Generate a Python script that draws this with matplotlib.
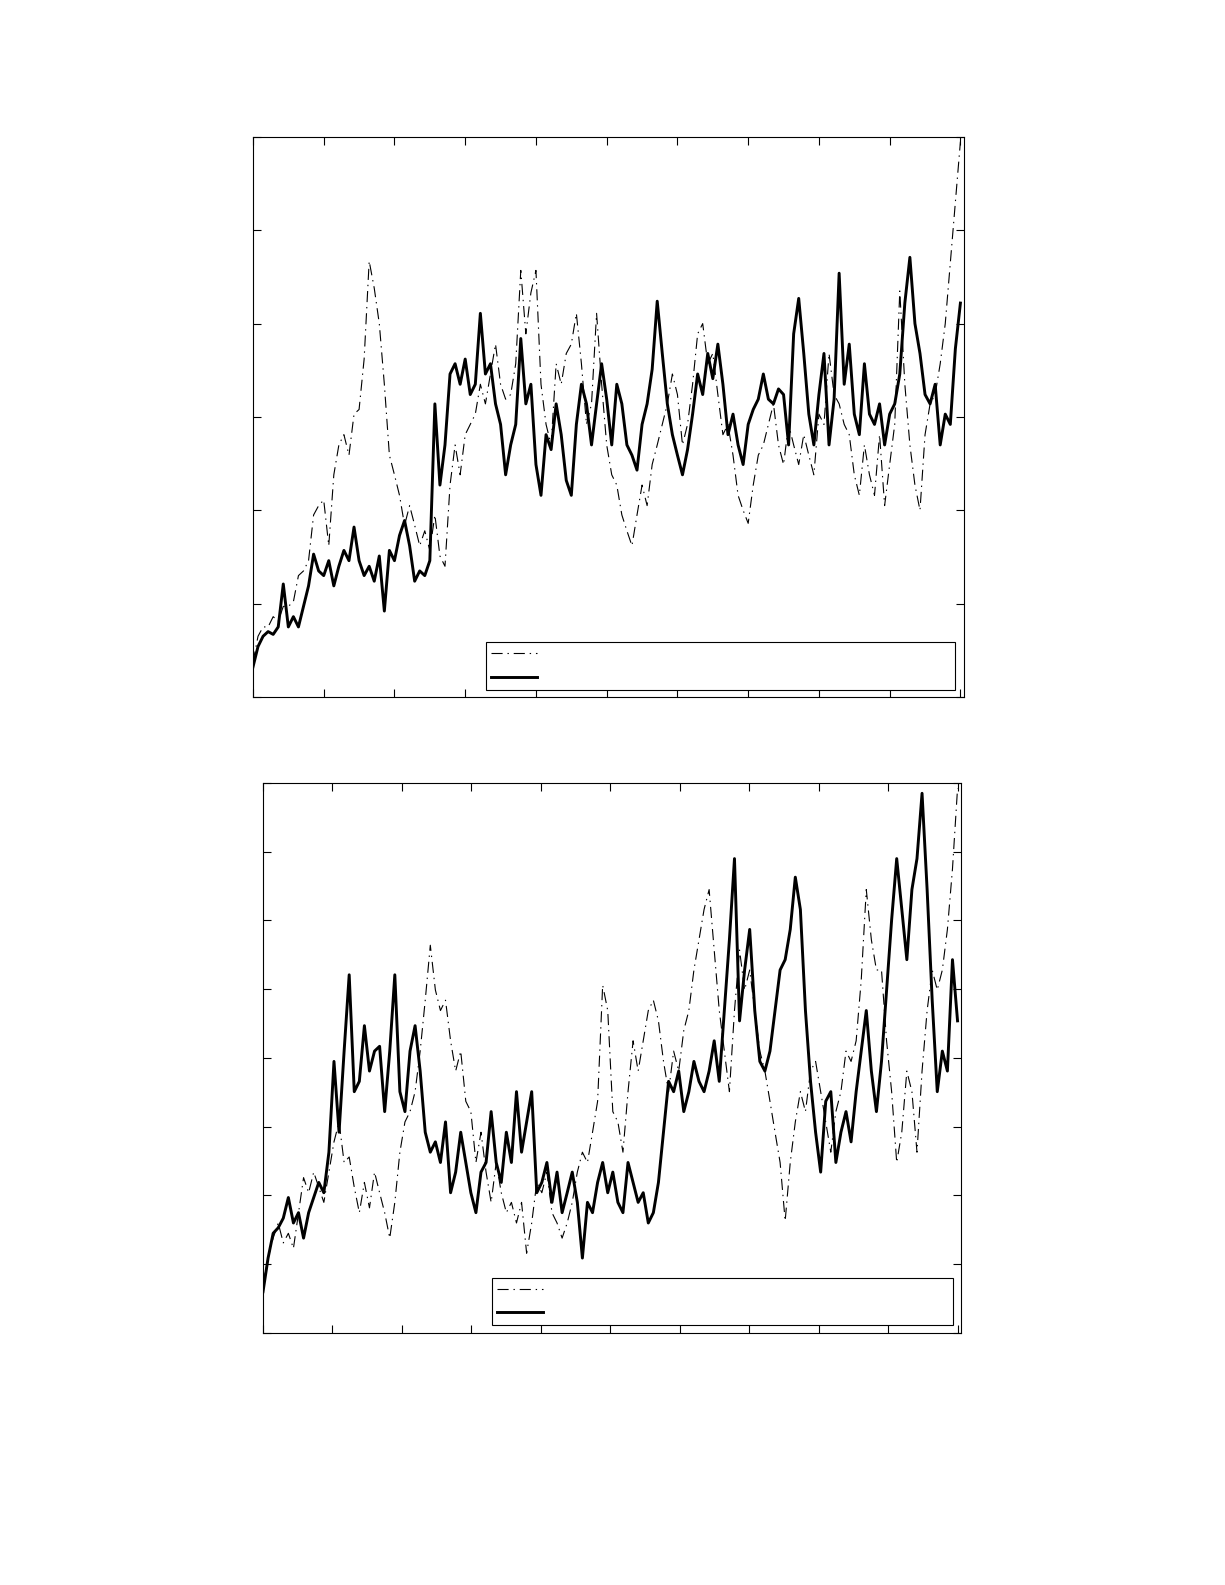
import numpy as np
import matplotlib
matplotlib.use("Agg")
import matplotlib.pyplot as plt

plt.rcParams['lines.scale_dashes'] = False

# upper panel, sampled evenly along the time axis (0..1000)
top_dashdot = [0.37, 0.65, 0.75, 0.75, 0.86, 0.81, 0.97, 0.97, 1.02, 1.30, 1.35, 1.46, 1.95, 2.05, 2.11,
               1.62, 2.38, 2.70, 2.81, 2.59, 3.03, 3.08, 3.62, 4.67, 4.38, 4.00, 3.35, 2.59, 2.38, 2.16,
               1.84, 2.05, 1.84, 1.62, 1.78, 1.57, 1.95, 1.51, 1.40, 2.27, 2.70, 2.38, 2.81, 2.92, 3.03,
               3.35, 3.14, 3.46, 3.78, 3.35, 3.19, 3.24, 3.57, 4.57, 3.89, 4.33, 4.57, 3.35, 2.92, 2.70,
               3.57, 3.35, 3.68, 3.78, 4.11, 3.57, 2.92, 3.14, 4.11, 3.35, 2.70, 2.38, 2.27, 1.95, 1.78,
               1.62, 1.95, 2.27, 2.05, 2.49, 2.70, 2.92, 3.14, 3.46, 3.24, 2.70, 2.92, 3.35, 3.89, 4.00,
               3.57, 3.68, 3.24, 2.81, 2.92, 2.59, 2.16, 2.00, 1.86, 2.27, 2.59, 2.70, 2.92, 3.14, 2.70,
               2.49, 2.92, 2.70, 2.49, 2.81, 2.59, 2.38, 3.03, 2.92, 3.68, 3.24, 3.14, 2.92, 2.81, 2.38,
               2.16, 2.70, 2.38, 2.16, 2.81, 2.05, 2.49, 2.92, 4.35, 3.35, 2.70, 2.27, 2.00, 2.81, 3.14,
               3.24, 3.57, 4.00, 4.65, 5.30, 5.95]
top_solid = [0.32, 0.54, 0.65, 0.70, 0.67, 0.75, 1.21, 0.75, 0.86, 0.75, 0.97, 1.19, 1.53, 1.35, 1.30,
             1.46, 1.19, 1.40, 1.57, 1.46, 1.82, 1.46, 1.30, 1.40, 1.24, 1.51, 0.92, 1.57, 1.46, 1.73,
             1.89, 1.62, 1.24, 1.35, 1.30, 1.46, 3.14, 2.27, 2.70, 3.46, 3.57, 3.35, 3.62, 3.24, 3.35,
             4.11, 3.46, 3.57, 3.14, 2.92, 2.38, 2.70, 2.92, 3.84, 3.14, 3.35, 2.49, 2.16, 2.81, 2.65,
             3.14, 2.81, 2.32, 2.16, 2.92, 3.35, 3.14, 2.70, 3.14, 3.57, 3.19, 2.70, 3.35, 3.14, 2.70,
             2.59, 2.43, 2.92, 3.14, 3.51, 4.24, 3.68, 3.14, 2.81, 2.59, 2.38, 2.65, 3.03, 3.46, 3.24,
             3.68, 3.41, 3.78, 3.35, 2.81, 3.03, 2.70, 2.49, 2.92, 3.08, 3.19, 3.46, 3.19, 3.14, 3.30,
             3.24, 2.70, 3.89, 4.27, 3.68, 3.03, 2.70, 3.24, 3.68, 2.70, 3.19, 4.54, 3.35, 3.78, 3.03,
             2.81, 3.57, 3.03, 2.92, 3.14, 2.70, 3.03, 3.14, 3.46, 4.22, 4.71, 4.00, 3.68, 3.24, 3.14,
             3.35, 2.70, 3.03, 2.92, 3.73, 4.22]

# lower panel
bot_dashdot = [0.72, 1.09, 1.38, 1.60, 1.31, 1.45, 1.23, 1.75, 2.26, 2.04, 2.34, 2.12, 1.90, 2.34, 2.78,
               3.07, 2.48, 2.56, 2.12, 1.75, 2.19, 1.82, 2.34, 2.04, 1.75, 1.38, 1.90, 2.63, 3.07, 3.22,
               3.51, 4.10, 4.84, 5.64, 4.99, 4.69, 4.84, 4.25, 3.81, 4.10, 3.37, 3.22, 2.48, 2.92, 2.34,
               1.90, 2.48, 2.04, 1.75, 1.90, 1.60, 1.90, 1.16, 1.60, 2.19, 2.04, 2.34, 1.75, 1.60, 1.38,
               1.60, 1.90, 2.34, 2.63, 2.48, 2.92, 3.37, 5.06, 4.69, 3.22, 3.07, 2.63, 3.51, 4.25, 3.81,
               4.25, 4.69, 4.84, 4.54, 3.95, 3.51, 4.10, 3.81, 4.40, 4.69, 5.28, 5.72, 6.16, 6.45, 5.57,
               4.69, 4.10, 3.51, 4.69, 5.57, 4.99, 5.28, 4.69, 4.10, 3.81, 3.37, 2.92, 2.48, 1.63, 2.48,
               3.07, 3.51, 3.22, 3.81, 3.95, 3.51, 3.07, 2.63, 3.22, 3.51, 4.10, 3.95, 4.25, 5.13, 6.45,
               5.72, 5.28, 5.28, 4.25, 3.51, 2.48, 2.92, 3.81, 3.51, 2.63, 3.81, 4.69, 5.28, 4.99, 5.28,
               5.87, 6.75, 7.92]
bot_solid = [0.60, 1.09, 1.45, 1.53, 1.67, 1.97, 1.60, 1.75, 1.38, 1.75, 1.97, 2.19, 2.04, 2.63, 3.95,
             2.92, 4.10, 5.21, 3.51, 3.66, 4.47, 3.81, 4.10, 4.17, 3.22, 4.10, 5.21, 3.51, 3.22, 4.10,
             4.47, 3.81, 2.92, 2.63, 2.78, 2.48, 3.07, 2.04, 2.34, 2.92, 2.48, 2.04, 1.75, 2.34, 2.48,
             3.22, 2.48, 2.19, 2.92, 2.48, 3.51, 2.63, 3.07, 3.51, 2.04, 2.19, 2.48, 1.90, 2.34, 1.75,
             2.04, 2.34, 1.90, 1.09, 1.90, 1.75, 2.19, 2.48, 2.04, 2.34, 1.90, 1.75, 2.48, 2.19, 1.90,
             2.04, 1.60, 1.75, 2.19, 2.92, 3.66, 3.51, 3.81, 3.22, 3.51, 3.95, 3.66, 3.51, 3.81, 4.25,
             3.66, 4.69, 5.72, 6.90, 4.54, 5.28, 5.87, 4.69, 3.95, 3.81, 4.10, 4.69, 5.28, 5.43, 5.87,
             6.63, 6.16, 4.69, 3.66, 2.92, 2.34, 3.37, 3.51, 2.48, 2.92, 3.22, 2.78, 3.51, 4.10, 4.69,
             3.81, 3.22, 3.95, 4.99, 6.01, 6.90, 6.16, 5.43, 6.45, 6.90, 7.85, 6.45, 4.84, 3.51, 4.10,
             3.81, 5.43, 4.54]

x_ticks = np.arange(0, 1001, 100)
dashdot = (0, (8, 3.5, 1, 3.5))

fig = plt.figure(figsize=(12.25, 15.85), dpi=100)
ax1 = fig.add_axes([0.2065, 0.5603, 0.5804, 0.3533])
ax2 = fig.add_axes([0.2147, 0.1590, 0.5698, 0.3470])

panels = [(ax1, top_dashdot, top_solid, 6, (0.328, 0.0125, 0.659, 0.086)),
          (ax2, bot_dashdot, bot_solid, 8, (0.328, 0.0145, 0.660, 0.084))]

for ax, dd, sol, ytop, box in panels:
    l1, = ax.plot(np.linspace(0, 1000, len(dd)), dd, color='black', lw=0.8, ls=dashdot)
    l2, = ax.plot(np.linspace(0, 1000, len(sol)), sol, color='black', lw=2.1)
    ax.set_xlim(0, 1005)
    ax.set_ylim(0, ytop)
    ax.set_xticks(x_ticks)
    ax.set_yticks(np.arange(0, ytop + 1))
    ax.tick_params(direction='in', length=6, width=0.8, top=True, right=True,
                   labelbottom=False, labelleft=False)
    for s in ax.spines.values():
        s.set_linewidth(0.8)
    leg = ax.legend([l1, l2], [' ', ' '], loc='lower left', bbox_to_anchor=box,
                    mode='expand', borderaxespad=0, fancybox=False, framealpha=1,
                    edgecolor='black', fontsize=10, handlelength=3.3,
                    borderpad=0.35, labelspacing=0.7)
    leg.get_frame().set_linewidth(0.8)

plt.savefig('out.png', dpi=100, facecolor='white')
